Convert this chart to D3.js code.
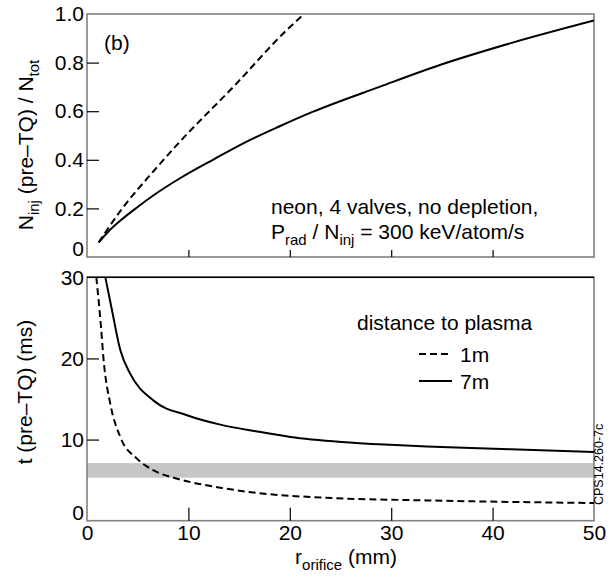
<!DOCTYPE html>
<html><head><meta charset="utf-8">
<script src="https://cdn.jsdelivr.net/npm/d3@7"></script>
<style>
body{margin:0;background:#fff;}
text{font-family:"Liberation Sans",Arial,sans-serif;fill:#000;}
</style></head>
<body><svg id="c" width="614" height="579"></svg>
<script>
// ---- data ----
const rTopSolid = [1.15, 2.0, 3.3, 4.9, 6.6, 9.17, 12.5, 15.75, 19, 22.3, 28.9, 34.8, 41.8, 50];
const nTopSolid = [0.06, 0.10, 0.15, 0.203, 0.255, 0.324, 0.402, 0.475, 0.538, 0.598, 0.701, 0.79, 0.88, 0.973];
const rTopDashed = [1.15, 3.3, 6.6, 9.17, 14.43, 19.7, 21.4];
const nTopDashed = [0.06, 0.19, 0.355, 0.475, 0.70, 0.934, 1.0];

const rBotSolid = [1.81, 2.47, 3.29, 4.27, 6.57, 9.86, 13.15, 16.77, 20.05, 25.1, 29.9, 33.5, 41.8, 50];
const tBotSolid = [30, 25.9, 21.0, 18.1, 14.8, 13.0, 11.84, 11.0, 10.32, 9.70, 9.35, 9.15, 8.8, 8.47];
const rBotDashed = [0.92, 1.38, 1.64, 2.3, 3.29, 4.93, 6.57, 8.9, 13.15, 16.77, 23.3, 33.5, 50];
const tBotDashed = [30, 23.9, 19.8, 14.4, 10.3, 7.65, 6.2, 5.18, 4.07, 3.42, 2.84, 2.5, 2.18];

const band = [5.3, 7.1];
const xTicks = [0, 10, 20, 30, 40, 50];
const yTopTicks = [0, 0.2, 0.4, 0.6, 0.8, 1.0];
const yTopLabels = ["0", "0.2", "0.4", "0.6", "0.8", "1.0"];
const yBotTicks = [0, 10, 20, 30];
const legendLabels = ["1m", "7m"];

// ---- layout ----
const svg = d3.select("#c");
const L = 87, R = 594;
const top1 = 14, bot1 = 257, top2 = 277.3, bot2 = 520.7;
const FS = 21, SUB = 15;
const frameCol = "#808080";

const x = d3.scaleLinear().domain([0, 50]).range([L, R]);
const y1 = d3.scaleLinear().domain([0, 1]).range([bot1, top1]);
const y2 = d3.scaleLinear().domain([0, 30]).range([bot2, top2]);

const defs = svg.append("defs");
defs.append("clipPath").attr("id", "cp1").append("rect").attr("x", L).attr("y", top1).attr("width", R - L).attr("height", bot1 - top1);
defs.append("clipPath").attr("id", "cp2").append("rect").attr("x", L).attr("y", top2).attr("width", R - L).attr("height", bot2 - top2);

// band
svg.append("rect").attr("x", L).attr("width", R - L)
  .attr("y", y2(band[1])).attr("height", y2(band[0]) - y2(band[1]))
  .attr("fill", "#c6c6c6");

// frames
svg.append("rect").attr("x", L).attr("y", top1).attr("width", R - L).attr("height", bot1 - top1)
  .attr("fill", "none").attr("stroke", frameCol).attr("stroke-width", 1.6);
svg.append("rect").attr("x", L).attr("y", top2).attr("width", R - L).attr("height", bot2 - top2)
  .attr("fill", "none").attr("stroke", frameCol).attr("stroke-width", 1.6);
svg.append("line").attr("x1", L).attr("x2", R).attr("y1", top2).attr("y2", top2)
  .attr("stroke", "#000").attr("stroke-width", 1.4);

function styleAxis(g) {
  g.select(".domain").remove();
  g.selectAll(".tick line").attr("stroke", "#000").attr("stroke-width", 1.2);
  g.selectAll(".tick text").attr("font-size", FS).attr("font-family", "Liberation Sans, Arial, sans-serif").attr("fill", "#000");
}

// top panel axes
const ay1 = svg.append("g").attr("transform", `translate(${L},0)`)
  .call(d3.axisLeft(y1).tickValues(yTopTicks).tickSize(-12).tickPadding(3)
    .tickFormat((d, i) => yTopLabels[i]));
styleAxis(ay1);
ay1.selectAll(".tick").filter(d => d === 0 || d === 1).select("line").remove();
ay1.selectAll(".tick").filter(d => d === 0).select("text").attr("dy", "-0.05em");

const ax1 = svg.append("g").attr("transform", `translate(0,${bot1})`)
  .call(d3.axisBottom(x).tickValues([10, 20, 30, 40]).tickSize(-7).tickFormat(""));
styleAxis(ax1);

// bottom panel axes
const ay2 = svg.append("g").attr("transform", `translate(${L},0)`)
  .call(d3.axisLeft(y2).tickValues(yBotTicks).tickSize(-12).tickPadding(3));
styleAxis(ay2);
ay2.selectAll(".tick").filter(d => d === 0 || d === 30).select("line").remove();
ay2.selectAll(".tick").filter(d => d === 0).select("text").attr("dy", "-0.05em");

const ax2 = svg.append("g").attr("transform", `translate(0,${bot2})`)
  .call(d3.axisBottom(x).tickValues(xTicks).tickSize(-13).tickPadding(4));
styleAxis(ax2);
ax2.selectAll(".tick").filter(d => d === 0 || d === 50).select("line").remove();

// curves
const line1 = d3.line().x(d => x(d[0])).y(d => y1(d[1])).curve(d3.curveMonotoneX);
const line2 = d3.line().x(d => x(d[0])).y(d => y2(d[1])).curve(d3.curveMonotoneX);
const z = (a, b) => a.map((v, i) => [v, b[i]]);

const g1 = svg.append("g").attr("clip-path", "url(#cp1)");
g1.append("path").attr("d", line1(z(rTopSolid, nTopSolid))).attr("fill", "none").attr("stroke", "#000").attr("stroke-width", 2);
g1.append("path").attr("d", line1(z(rTopDashed, nTopDashed))).attr("fill", "none").attr("stroke", "#000").attr("stroke-width", 2).attr("stroke-dasharray", "7,4");

const g2 = svg.append("g").attr("clip-path", "url(#cp2)");
g2.append("path").attr("d", line2(z(rBotSolid, tBotSolid))).attr("fill", "none").attr("stroke", "#000").attr("stroke-width", 2);
g2.append("path").attr("d", line2(z(rBotDashed, tBotDashed))).attr("fill", "none").attr("stroke", "#000").attr("stroke-width", 2).attr("stroke-dasharray", "7,4");

// text helpers
function richText(sel, parts) {
  parts.forEach(p => {
    const t = sel.append("tspan").text(p[0]);
    if (p[1] === "sub") { t.attr("font-size", SUB).attr("dy", 6); }
    else if (p[1] === "up") { t.attr("dy", -6); }
  });
}

// panel label
svg.append("text").attr("x", 104).attr("y", 50).attr("font-size", FS).text("(b)");

// annotation
svg.append("text").attr("x", 271).attr("y", 214).attr("font-size", FS).text("neon, 4 valves, no depletion,");
const ann2 = svg.append("text").attr("x", 271).attr("y", 239).attr("font-size", FS);
richText(ann2, [["P"], ["rad", "sub"], [" / N", "up"], ["inj", "sub"], [" = 300 keV/atom/s", "up"]]);

// y titles
const yt1 = svg.append("text").attr("transform", "translate(33,145) rotate(-90)").attr("text-anchor", "middle").attr("font-size", FS);
richText(yt1, [["N"], ["inj", "sub"], [" (pre\u2013TQ) / N", "up"], ["tot", "sub"]]);
svg.append("text").attr("transform", "translate(32,392) rotate(-90)").attr("text-anchor", "middle").attr("font-size", FS)
  .text("t (pre\u2013TQ) (ms)");

// x title
const xt = svg.append("text").attr("x", 346).attr("y", 564).attr("text-anchor", "middle").attr("font-size", FS);
richText(xt, [["r"], ["orifice", "sub"], [" (mm)", "up"]]);

// legend
svg.append("text").attr("x", 357).attr("y", 330).attr("font-size", FS).text("distance to plasma");
const legY = [354, 381];
const legDash = ["7,4", null];
legendLabels.forEach((lab, i) => {
  const l = svg.append("line").attr("x1", 419).attr("x2", 452).attr("y1", legY[i]).attr("y2", legY[i])
    .attr("stroke", "#000").attr("stroke-width", 2);
  if (legDash[i]) l.attr("stroke-dasharray", legDash[i]);
  svg.append("text").attr("x", 460).attr("y", legY[i] + 8).attr("font-size", FS).text(lab);
});

// side code
svg.append("text").attr("transform", "translate(603,505) rotate(-90)").attr("font-size", 12.5).text("CPS14.260-7c");
</script></body></html>
